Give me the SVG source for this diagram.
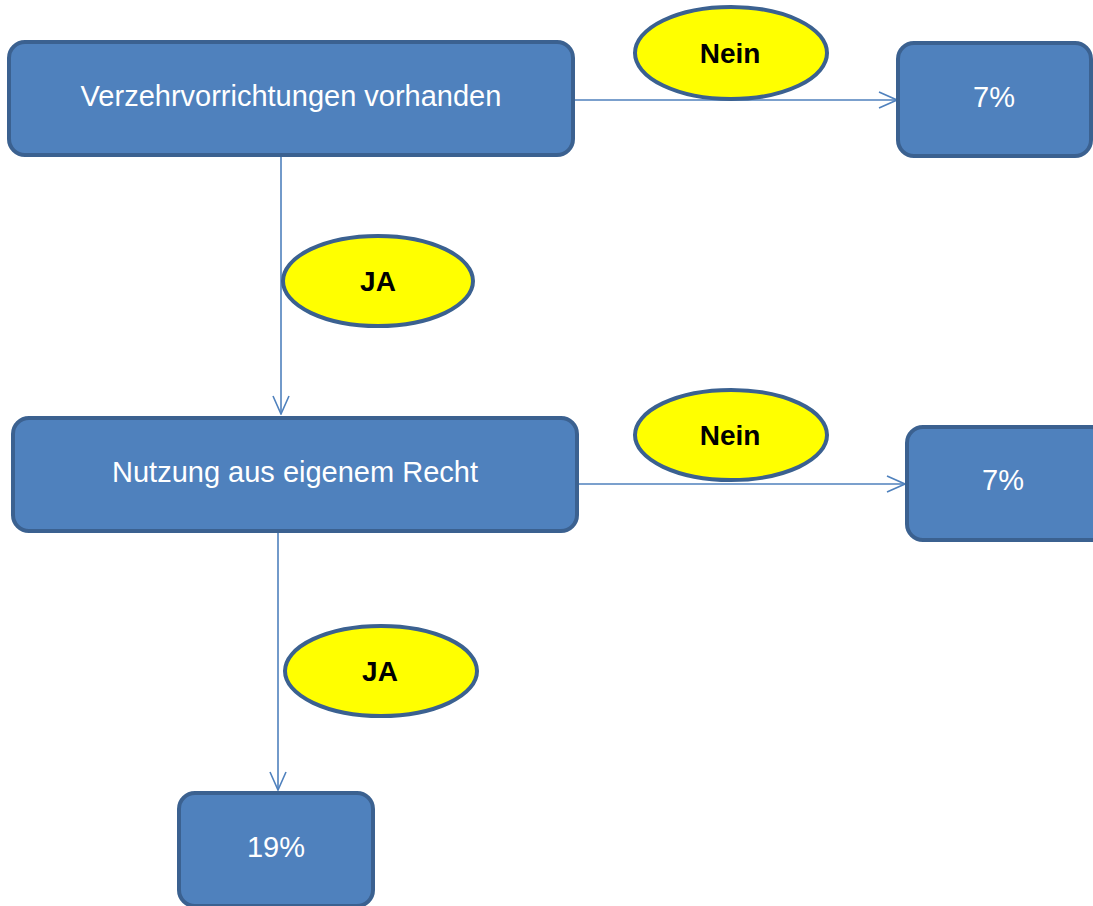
<svg xmlns="http://www.w3.org/2000/svg" width="1093" height="906" viewBox="0 0 1093 906">
<style>
.box{fill:#4F81BD;stroke:#3B6190;stroke-width:4}
.ell{fill:#FFFF00;stroke:#3B6190;stroke-width:4}
.bt{fill:#FFFFFF;font-family:"Liberation Sans",Arial,sans-serif;font-size:29px;text-anchor:middle}
.lt{fill:#000000;font-family:"Liberation Sans",Arial,sans-serif;font-size:28px;font-weight:bold;text-anchor:middle}
.con{fill:none;stroke:#4F81BD;stroke-width:1.6}
</style>
<defs>
<marker id="arr" viewBox="0 0 20 20" refX="19" refY="10" markerWidth="20" markerHeight="20" markerUnits="userSpaceOnUse" orient="auto">
<path d="M1,2 L19,10 L1,18" fill="none" stroke="#4F81BD" stroke-width="1.6"/>
</marker>
</defs>
<g id="connectors">
<line class="con" x1="573" y1="100" x2="897" y2="100" marker-end="url(#arr)"/>
<line class="con" x1="281" y1="155" x2="281" y2="414" marker-end="url(#arr)"/>
<line class="con" x1="577" y1="484" x2="905" y2="484" marker-end="url(#arr)"/>
<line class="con" x1="278" y1="531" x2="278" y2="790" marker-end="url(#arr)"/>
</g>
<g id="n1"><rect class="box" x="9" y="42" width="564" height="113" rx="16"/><text class="bt" x="291" y="106">Verzehrvorrichtungen vorhanden</text></g>
<g id="n2"><rect class="box" x="898" y="43" width="193" height="113" rx="16"/><text class="bt" x="994" y="107">7%</text></g>
<g id="n3"><rect class="box" x="13" y="418" width="564" height="113" rx="16"/><text class="bt" x="295" y="482">Nutzung aus eigenem Recht</text></g>
<g id="n4"><rect class="box" x="907" y="427" width="200" height="113" rx="16"/><text class="bt" x="1003" y="490">7%</text></g>
<g id="n5"><rect class="box" x="179" y="793" width="194" height="113" rx="16"/><text class="bt" x="276" y="857">19%</text></g>
<g id="l1"><ellipse class="ell" cx="731" cy="53" rx="96" ry="46"/><text class="lt" x="730" y="63">Nein</text></g>
<g id="l2"><ellipse class="ell" cx="378" cy="281" rx="95" ry="45"/><text class="lt" x="378" y="291">JA</text></g>
<g id="l3"><ellipse class="ell" cx="731" cy="435" rx="96" ry="45"/><text class="lt" x="730" y="445">Nein</text></g>
<g id="l4"><ellipse class="ell" cx="381" cy="671" rx="96" ry="45"/><text class="lt" x="380" y="681">JA</text></g>
</svg>
